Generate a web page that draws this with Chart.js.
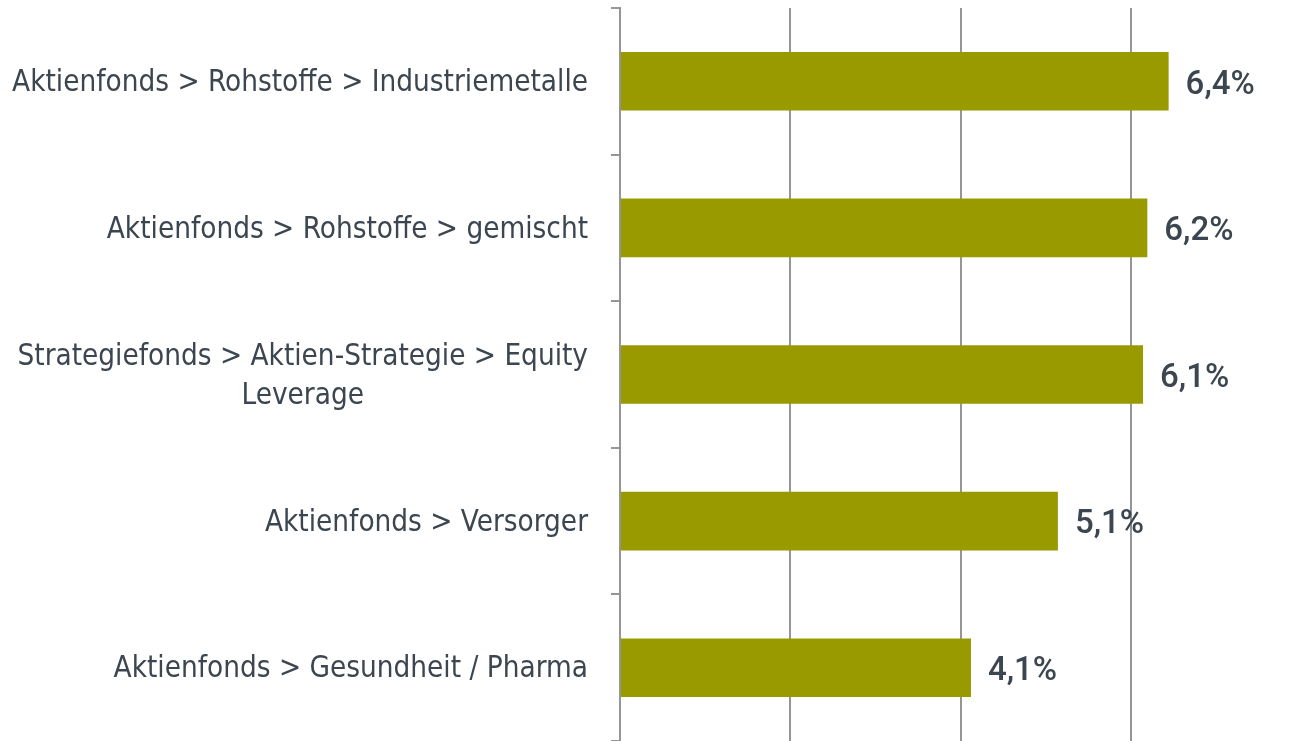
<!DOCTYPE html>
<html>
<head>
<meta charset="utf-8">
<script src="https://cdn.jsdelivr.net/npm/chart.js@4"></script>
<style>
  html, body { margin: 0; padding: 0; background: #fff; }
  #wrap { width: 1293px; height: 741px; }
</style>
</head>
<body>
<div id="wrap"><canvas id="fundsChart"></canvas></div>
<script>
// Categories (multi-line where the reference wraps)
const categories = [
    ['Aktienfonds > Rohstoffe > Industriemetalle'],
    ['Aktienfonds > Rohstoffe > gemischt'],
    ['Strategiefonds > Aktien-Strategie > Equity', 'Leverage'],
    ['Aktienfonds > Versorger'],
    ['Aktienfonds > Gesundheit / Pharma']
];
const values = [6.44, 6.19, 6.14, 5.14, 4.12];
const gridTicks = [0, 2, 4, 6];

const textColor = '#3b4650';
const gridColor = '#959595';

// Draws the centred multi-line category labels and the value labels
const labelPlugin = {
    id: 'labels',
    afterDatasetsDraw(chart) {
        const ctx = chart.ctx;
        const yScale = chart.scales.y;
        const meta = chart.getDatasetMeta(0);
        ctx.save();
        ctx.fillStyle = textColor;
        ctx.textBaseline = 'middle';

        ctx.font = '29.4px "Liberation Sans Narrow", "DejaVu Sans Condensed", sans-serif';
        ctx.textAlign = 'center';
        const lineH = 39;
        categories.forEach((lines, i) => {
            const yc = yScale.getPixelForValue(i) + 2;
            const w = Math.max(...lines.map(l => ctx.measureText(l).width));
            const xc = 588 - w / 2;
            const y0 = yc - (lines.length - 1) * lineH / 2;
            lines.forEach((l, k) => ctx.fillText(l, xc, y0 + k * lineH));
        });

        ctx.font = '500 33px Roboto, sans-serif';
        ctx.textAlign = 'left';
        meta.data.forEach((bar, i) => {
            const txt = values[i].toFixed(1).replace('.', ',') + '%';
            ctx.fillText(txt, bar.x + 17, bar.y + 4);
        });
        ctx.restore();
    }
};

const ctx = document.getElementById('fundsChart').getContext('2d');
const fundsChart = new Chart(ctx, {
    type: 'bar',
    data: {
        labels: categories,
        datasets: [{
            data: values,
            backgroundColor: '#999900',
            borderWidth: 0,
            barPercentage: 0.4,
            categoryPercentage: 1.0
        }]
    },
    options: {
        indexAxis: 'y',
        responsive: true,
        maintainAspectRatio: false,
        animation: false,
        layout: { padding: { top: 8, right: 0, bottom: 0, left: 0 } },
        plugins: {
            legend: { display: false },
            tooltip: { enabled: false }
        },
        scales: {
            x: {
                min: 0,
                max: 7.9,
                afterBuildTicks: scale => { scale.ticks = gridTicks.map(v => ({ value: v })); },
                afterFit: scale => { scale.height = 0; },
                ticks: { display: false },
                border: { display: false },
                grid: { color: gridColor, lineWidth: 2, drawTicks: false }
            },
            y: {
                afterFit: scale => { scale.width = 620; },
                ticks: { display: false },
                border: { display: true, color: gridColor, width: 2 },
                grid: {
                    offset: true,
                    drawOnChartArea: false,
                    color: gridColor,
                    lineWidth: 2,
                    tickLength: 9
                }
            }
        }
    },
    plugins: [labelPlugin]
});
</script>
</body>
</html>
